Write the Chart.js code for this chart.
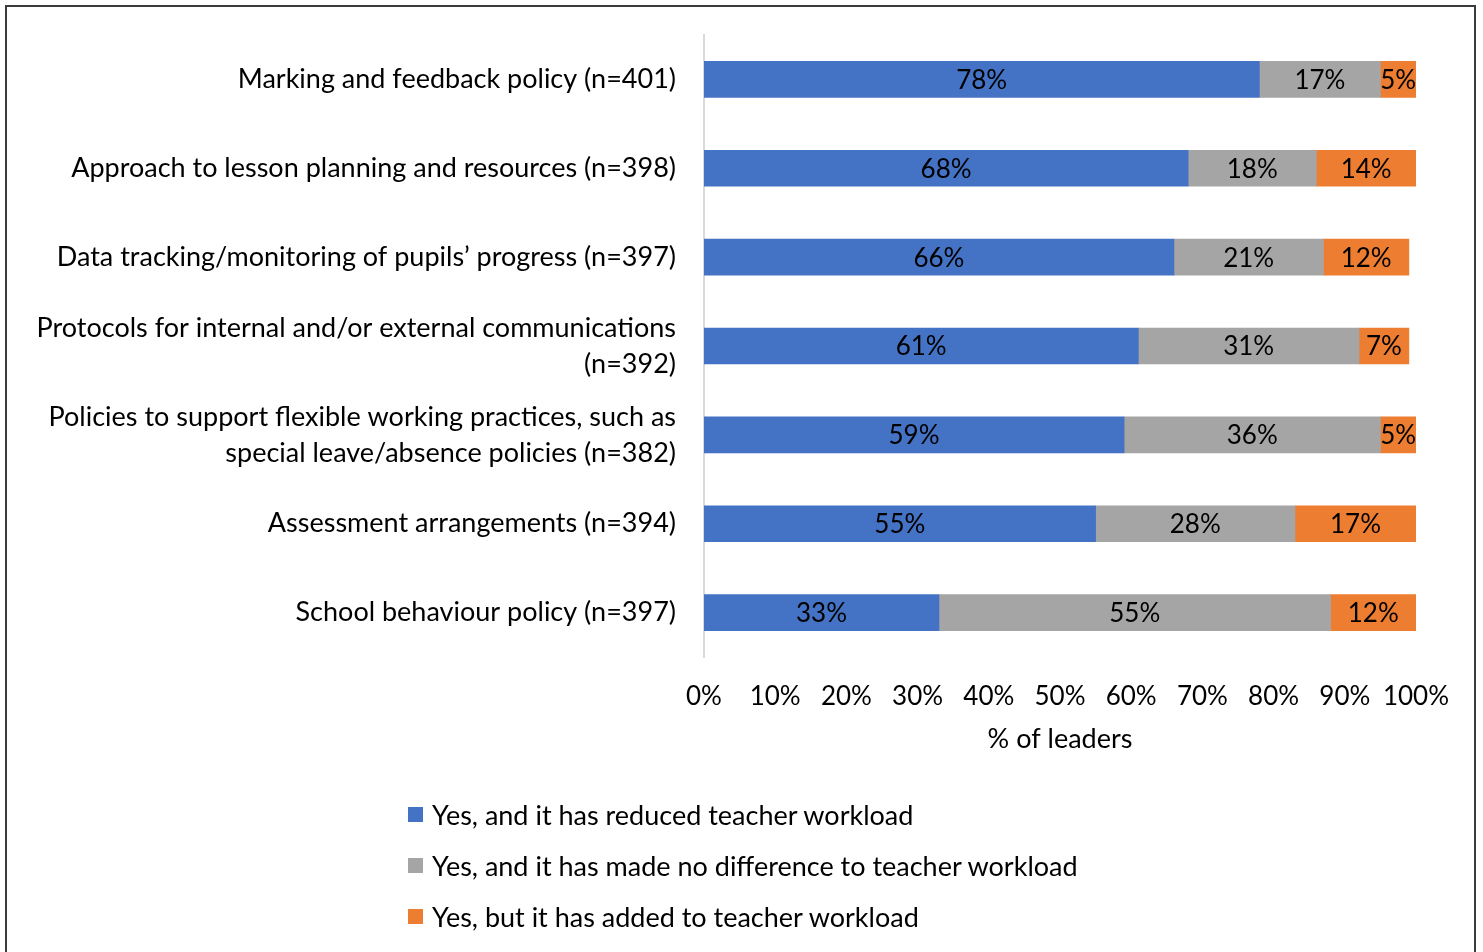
<!DOCTYPE html>
<html>

<head>
    <meta charset="utf-8">
    <script src="https://cdn.jsdelivr.net/npm/chart.js@4"></script>
    <style>
        body { margin: 0; background: #fff; }
        #wrap { position: relative; width: 1483px; height: 952px; overflow: hidden; }
        #frame { position: absolute; left: 5px; top: 5px; width: 1471px; height: 990px; border: 2px solid #3c3c3c; box-sizing: border-box; }
        #legenda { position: absolute; left: 408px; top: 789px; font-family: Lato, sans-serif; font-size: 27px; color: #000; }
        #legenda div { height: 51px; display: flex; align-items: center; }
        #legenda span.box { display: inline-block; width: 15px; height: 15px; margin-right: 9px; }
    </style>
</head>

<body>
    <div id="wrap">
        <div id="frame"></div>
        <canvas id="wykres" width="1483" height="952"></canvas>
        <div id="legenda"></div>
    </div>
    <script>
        const kategorie = [
            "Marking and feedback policy (n=401)",
            "Approach to lesson planning and resources (n=398)",
            "Data tracking/monitoring of pupils’ progress (n=397)",
            ["Protocols for internal and/or external communications", "(n=392)"],
            ["Policies to support flexible working practices, such as", "special leave/absence policies (n=382)"],
            "Assessment arrangements (n=394)",
            "School behaviour policy (n=397)"
        ];
        const zmniejszylo = [78, 68, 66, 61, 59, 55, 33];
        const bezZmian = [17, 18, 21, 31, 36, 28, 55];
        const zwiekszylo = [5, 14, 12, 7, 5, 17, 12];
        const nazwySerii = [
            "Yes, and it has reduced teacher workload",
            "Yes, and it has made no difference to teacher workload",
            "Yes, but it has added to teacher workload"
        ];
        const kolory = ["#4472C4", "#A5A5A5", "#ED7D31"];

        const czcionka = "Lato, sans-serif";

        const dane = {
            labels: kategorie,
            datasets: [zmniejszylo, bezZmian, zwiekszylo].map((wartosci, i) => ({
                label: nazwySerii[i],
                data: wartosci,
                backgroundColor: kolory[i],
                barThickness: 36
            }))
        };

        // procenty w środku każdego odcinka
        const etykiety = {
            id: "etykiety",
            afterDatasetsDraw(chart) {
                const ctx = chart.ctx;
                ctx.save();
                ctx.font = "26px " + czcionka;
                ctx.fillStyle = "#000";
                ctx.textAlign = "center";
                ctx.textBaseline = "middle";
                chart.data.datasets.forEach((ds, i) => {
                    chart.getDatasetMeta(i).data.forEach((bar, j) => {
                        const x = (bar.x + bar.base) / 2;
                        ctx.fillText(ds.data[j] + "%", x, bar.y + 1);
                    });
                });
                ctx.restore();
            }
        };

        const ctx = document.getElementById("wykres").getContext("2d");
        const wykres = new Chart(ctx, {
            type: "bar",
            data: dane,
            plugins: [etykiety],
            options: {
                indexAxis: "y",
                responsive: false,
                animation: false,
                layout: { padding: { top: 35, right: 67, bottom: 197, left: 0 } },
                plugins: {
                    legend: { display: false },
                    tooltip: { enabled: false }
                },
                scales: {
                    x: {
                        stacked: true,
                        min: 0,
                        max: 100,
                        grid: { display: false, drawTicks: false },
                        border: { display: false },
                        ticks: {
                            stepSize: 10,
                            padding: 24,
                            maxRotation: 0,
                            minRotation: 0,
                            autoSkip: false,
                            color: "#000",
                            font: { family: czcionka, size: 26 },
                            callback: v => v + "%"
                        },
                        title: {
                            display: true,
                            text: "% of leaders",
                            color: "#000",
                            font: { family: czcionka, size: 27 },
                            padding: { top: 0, bottom: 0 }
                        },
                        afterFit(scale) { scale.height = 98; }
                    },
                    y: {
                        stacked: true,
                        grid: { display: false, drawTicks: false },
                        border: { display: true, color: "#D9D9D9", width: 2 },
                        ticks: {
                            padding: 28,
                            color: "#000",
                            font: { family: czcionka, size: 27, lineHeight: 1.333 }
                        },
                        afterFit(scale) {
                            scale.width = 704;
                            scale.paddingTop = 0;
                            scale.paddingBottom = 0;
                        }
                    }
                }
            }
        });

        // legenda w pionie pod wykresem
        const legenda = document.getElementById("legenda");
        nazwySerii.forEach((nazwa, i) => {
            const wiersz = document.createElement("div");
            const kwadrat = document.createElement("span");
            kwadrat.className = "box";
            kwadrat.style.background = kolory[i];
            wiersz.appendChild(kwadrat);
            wiersz.appendChild(document.createTextNode(nazwa));
            legenda.appendChild(wiersz);
        });
    </script>
</body>

</html>
